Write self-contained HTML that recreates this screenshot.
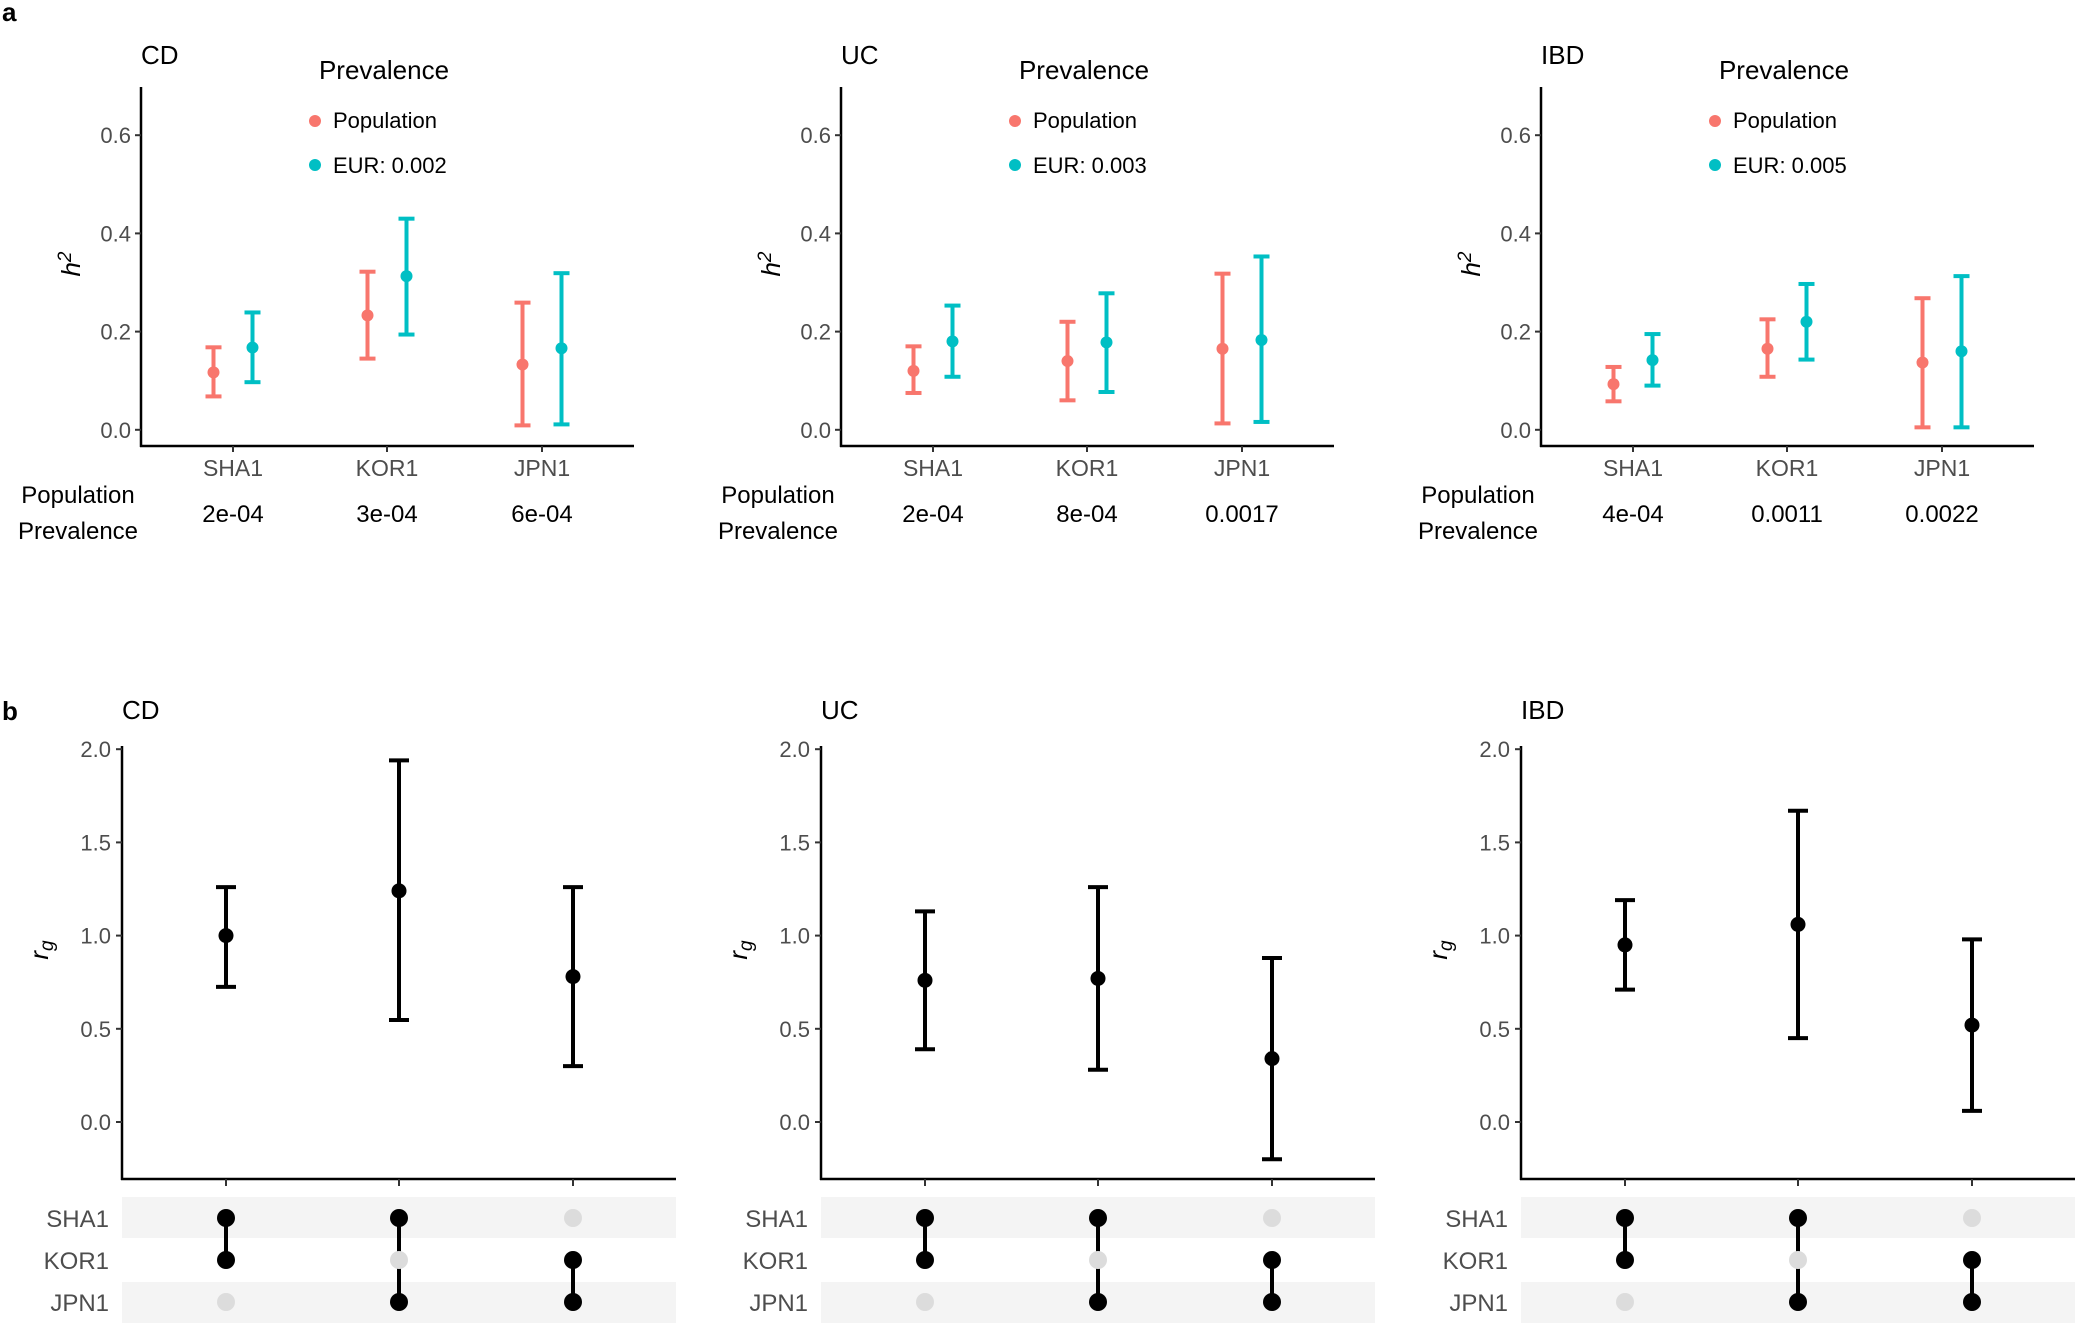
<!DOCTYPE html>
<html><head><meta charset="utf-8"><style>
body{margin:0;background:#fff}
svg{display:block;font-family:"Liberation Sans",sans-serif}
.tk{font-size:22px;fill:#4d4d4d}
.cat{font-size:23px;fill:#4d4d4d}
.rw{font-size:24px;fill:#4d4d4d}
.t{font-size:26px;fill:#000}
.lg{font-size:22px;fill:#000}
.pv{font-size:24px;fill:#000}
</style></head><body>
<svg id="s" width="2080" height="1328" viewBox="0 0 2080 1328" xmlns="http://www.w3.org/2000/svg">
<text x="2" y="21" style="font-size:26px;font-weight:bold">a</text>
<text x="2" y="720" style="font-size:26px;font-weight:bold">b</text>
<g id="A0">
<text class="t" x="141" y="64">CD</text>
<text class="t" x="384" y="79" text-anchor="middle">Prevalence</text>
<text class="lg" x="333" y="128">Population</text>
<text class="lg" x="333" y="173">EUR: 0.002</text>
<text class="pv" x="233" y="522" text-anchor="middle">2e-04</text>
<text class="pv" x="387" y="522" text-anchor="middle">3e-04</text>
<text class="pv" x="542" y="522" text-anchor="middle">6e-04</text>
</g>
<g id="A1" transform="translate(700,0)">
<text class="t" x="141" y="64">UC</text>
<text class="t" x="384" y="79" text-anchor="middle">Prevalence</text>
<text class="lg" x="333" y="128">Population</text>
<text class="lg" x="333" y="173">EUR: 0.003</text>
<text class="pv" x="233" y="522" text-anchor="middle">2e-04</text>
<text class="pv" x="387" y="522" text-anchor="middle">8e-04</text>
<text class="pv" x="542" y="522" text-anchor="middle">0.0017</text>
</g>
<g id="A2" transform="translate(1400,0)">
<text class="t" x="141" y="64">IBD</text>
<text class="t" x="384" y="79" text-anchor="middle">Prevalence</text>
<text class="lg" x="333" y="128">Population</text>
<text class="lg" x="333" y="173">EUR: 0.005</text>
<text class="pv" x="233" y="522" text-anchor="middle">4e-04</text>
<text class="pv" x="387" y="522" text-anchor="middle">0.0011</text>
<text class="pv" x="542" y="522" text-anchor="middle">0.0022</text>
</g>
<g id="B0"><text class="t" x="122" y="719">CD</text></g>
<g id="B1" transform="translate(699,0)"><text class="t" x="122" y="719">UC</text></g>
<g id="B2" transform="translate(1399,0)"><text class="t" x="122" y="719">IBD</text></g>
</svg>
<script>
var NS="http://www.w3.org/2000/svg";
function el(p,n,a){var e=document.createElementNS(NS,n);for(var k in a)e.setAttribute(k,a[k]);p.appendChild(e);return e;}
var R="#F8766D",T="#00BFC4";
var A=[
 [[0.117,0.068,0.168],[0.1675,0.097,0.239],[0.233,0.145,0.322],[0.313,0.194,0.430],[0.133,0.009,0.259],[0.166,0.011,0.319]],
 [[0.12,0.075,0.17],[0.18,0.108,0.253],[0.14,0.06,0.22],[0.178,0.077,0.278],[0.165,0.013,0.318],[0.183,0.016,0.353]],
 [[0.093,0.058,0.128],[0.142,0.09,0.195],[0.165,0.108,0.225],[0.22,0.143,0.297],[0.137,0.005,0.268],[0.16,0.005,0.313]]];
var B=[[[1.0,0.725,1.26],[1.24,0.547,1.94],[0.78,0.30,1.26]],
 [[0.76,0.39,1.13],[0.77,0.28,1.26],[0.34,-0.2,0.88]],
 [[0.95,0.71,1.19],[1.06,0.45,1.67],[0.52,0.06,0.98]]];
var cx=[233,387,542];
var names=["SHA1","KOR1","JPN1"];
for(var p=0;p<3;p++){
 var g=document.getElementById("A"+p);
 var ya=function(v){return 429.8-v*491;};
 el(g,"line",{x1:141,y1:87,x2:141,y2:447,stroke:"#000","stroke-width":2.5});
 el(g,"line",{x1:140,y1:446,x2:634,y2:446,stroke:"#000","stroke-width":2.5});
 [0,0.2,0.4,0.6].forEach(function(v){var y=ya(v);el(g,"line",{x1:135,y1:y,x2:141,y2:y,stroke:"#333","stroke-width":2});
  var t=el(g,"text",{x:131,y:y+8,"text-anchor":"end","class":"tk"});t.textContent=v.toFixed(1);});
 for(var i=0;i<3;i++){el(g,"line",{x1:cx[i],y1:446,x2:cx[i],y2:452,stroke:"#333","stroke-width":2});
  var t=el(g,"text",{x:cx[i],y:476,"text-anchor":"middle","class":"cat"});t.textContent=names[i];}
 var t1=el(g,"text",{x:78,y:503,"text-anchor":"middle","class":"pv"});t1.textContent="Population";
 var t2=el(g,"text",{x:78,y:539,"text-anchor":"middle","class":"pv"});t2.textContent="Prevalence";
 var yl=el(g,"text",{x:0,y:0,"transform":"translate(80,264) rotate(-90)","text-anchor":"middle",style:"font-size:26px;font-style:italic"});
 yl.innerHTML='h<tspan dy="-9" style="font-size:19px">2</tspan>';
 el(g,"circle",{cx:315,cy:121,r:6,fill:R});el(g,"circle",{cx:315,cy:165,r:6,fill:T});
 for(var j=0;j<6;j++){var d=A[p][j],x=cx[j>>1]+(j%2?19.5:-19.5),c=j%2?T:R;
  el(g,"line",{x1:x,y1:ya(d[1]),x2:x,y2:ya(d[2]),stroke:c,"stroke-width":4});
  el(g,"line",{x1:x-8,y1:ya(d[1]),x2:x+8,y2:ya(d[1]),stroke:c,"stroke-width":4});
  el(g,"line",{x1:x-8,y1:ya(d[2]),x2:x+8,y2:ya(d[2]),stroke:c,"stroke-width":4});
  el(g,"circle",{cx:x,cy:ya(d[0]),r:6,fill:c});}
 var h=document.getElementById("B"+p);
 var yb=function(v){return 1122-v*186.4;};
 var bx=[226,399,573];
 el(h,"rect",{x:122,y:1197,width:554,height:41,fill:"#f4f4f4"});
 el(h,"rect",{x:122,y:1282,width:554,height:41,fill:"#f4f4f4"});
 el(h,"line",{x1:122,y1:746,x2:122,y2:1180,stroke:"#000","stroke-width":2.5});
 el(h,"line",{x1:121,y1:1179,x2:676,y2:1179,stroke:"#000","stroke-width":2.5});
 [0,0.5,1,1.5,2].forEach(function(v){var y=yb(v);el(h,"line",{x1:116,y1:y,x2:122,y2:y,stroke:"#333","stroke-width":2});
  var t=el(h,"text",{x:111,y:y+8,"text-anchor":"end","class":"tk"});t.textContent=v.toFixed(1);});
 var rl=el(h,"text",{x:0,y:0,transform:"translate(48,950) rotate(-90)","text-anchor":"middle",style:"font-size:26px;font-style:italic"});
 rl.innerHTML='r<tspan dy="5" style="font-size:19px">g</tspan>';
 var rows=[1218,1260,1302];
 for(var r=0;r<3;r++){var t=el(h,"text",{x:109,y:rows[r]+9,"text-anchor":"end","class":"rw"});t.textContent=names[r];}
 var M=[[1,1,0],[1,0,1],[0,1,1]];
 for(var i=0;i<3;i++){var x=bx[i],d=B[p][i];
  el(h,"line",{x1:x,y1:1179,x2:x,y2:1186,stroke:"#333","stroke-width":2});
  el(h,"line",{x1:x,y1:yb(d[1]),x2:x,y2:yb(d[2]),stroke:"#000","stroke-width":4});
  el(h,"line",{x1:x-10,y1:yb(d[1]),x2:x+10,y2:yb(d[1]),stroke:"#000","stroke-width":4});
  el(h,"line",{x1:x-10,y1:yb(d[2]),x2:x+10,y2:yb(d[2]),stroke:"#000","stroke-width":4});
  el(h,"circle",{cx:x,cy:yb(d[0]),r:7.5,fill:"#000"});
  var on=[];for(var r=0;r<3;r++)if(M[i][r])on.push(rows[r]);
  el(h,"line",{x1:x,y1:on[0],x2:x,y2:on[on.length-1],stroke:"#000","stroke-width":4});
  for(var r=0;r<3;r++)el(h,"circle",{cx:x,cy:rows[r],r:9,fill:M[i][r]?"#000":"#dcdcdc"});}
}
</script>
</body></html>
